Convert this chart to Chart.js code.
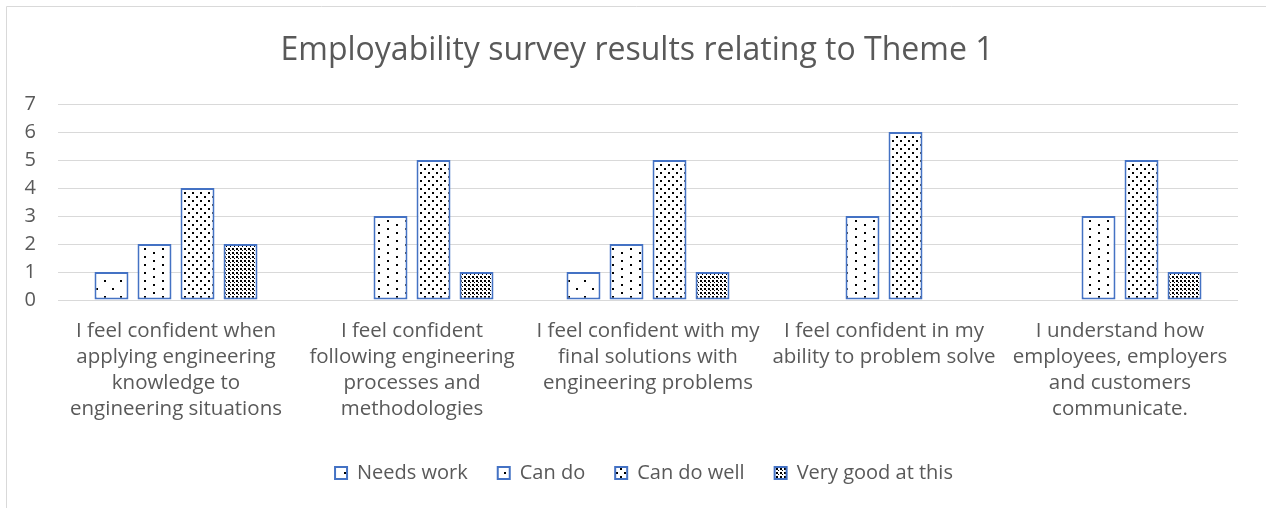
<!DOCTYPE html>
<html>
<head>
<meta charset="utf-8">
<script src="https://cdn.jsdelivr.net/npm/chart.js@4"></script>
<style>
  html, body { margin: 0; padding: 0; background: #ffffff; }
  #wrap { position: relative; width: 1266px; height: 508px; }
</style>
</head>
<body>
<div id="wrap"><canvas id="c" width="1266" height="508"></canvas></div>
<script>
const categories = [
  ["I feel confident when", "applying engineering", "knowledge to", "engineering situations"],
  ["I feel confident", "following engineering", "processes and", "methodologies"],
  ["I feel confident with my", "final solutions with", "engineering problems"],
  ["I feel confident in my", "ability to problem solve"],
  ["I understand how", "employees, employers", "and customers", "communicate."]
];
const seriesNames = ["Needs work", "Can do", "Can do well", "Very good at this"];
const needsWork = [1, 0, 1, 0, 0];
const canDo = [2, 3, 2, 3, 3];
const canDoWell = [4, 5, 5, 6, 5];
const veryGood = [2, 1, 1, 0, 1];
const yTicks = [0, 1, 2, 3, 4, 5, 6, 7];

const FONT = "'Open Sans'";
const TEXT = "#595959";
const BLUE = "#4472C4";

function makePattern(w, h, dots, size) {
  const c = document.createElement("canvas");
  c.width = w; c.height = h;
  const g = c.getContext("2d");
  g.fillStyle = "#ffffff";
  g.fillRect(0, 0, w, h);
  g.fillStyle = "#000000";
  dots.forEach(d => g.fillRect(d[0], d[1], d[2] || size, d[3] || size));
  return g.createPattern(c, "repeat");
}
const patterns = [
  makePattern(16, 16, [[0, 0], [8, 8]], 2),
  makePattern(18, 8, [[0, 0], [9, 4]], 2),
  makePattern(8, 8, [[0, 0], [4, 4]], 2),
  makePattern(4, 4, [[0, 0, 2, 2], [2, 2, 1, 1]], 2)
];

const seriesData = [needsWork, canDo, canDoWell, veryGood];

const framePlugin = {
  id: "frame",
  afterLayout(chart) {
    if (chart.titleBlock) { chart.titleBlock.left = 36; }
    if (chart.legend) { chart.legend.left = 50; }
  },
  beforeDraw(chart) {
    const ctx = chart.ctx;
    ctx.save();
    ctx.strokeStyle = "#d9d9d9";
    ctx.lineWidth = 1;
    ctx.beginPath();
    ctx.moveTo(6.5, 508);
    ctx.lineTo(6.5, 6.5);
    ctx.lineTo(1266, 6.5);
    ctx.stroke();
    ctx.restore();
  }
};

new Chart(document.getElementById("c"), {
  type: "bar",
  data: {
    labels: categories,
    datasets: seriesNames.map((name, i) => ({
      label: name,
      data: seriesData[i],
      backgroundColor: patterns[i],
      borderColor: BLUE,
      borderWidth: (ctx) => (ctx.raw === 0 ? 0 : 2),
      borderSkipped: false,
      categoryPercentage: 0.729,
      barPercentage: 0.79
    }))
  },
  options: {
    responsive: false,
    animation: false,
    devicePixelRatio: 1,
    layout: { padding: { left: 0, right: 28, top: 32, bottom: 15 } },
    plugins: {
      title: {
        display: true,
        text: "Employability survey results relating to Theme 1",
        color: TEXT,
        font: { family: FONT, size: 32, weight: "normal" },
        padding: { top: 0, bottom: 33.6 }
      },
      legend: {
        position: "bottom",
        labels: {
          color: TEXT,
          font: { family: FONT, size: 20 },
          boxWidth: 12,
          boxHeight: 12,
          padding: 30
        }
      },
      tooltip: { enabled: false }
    },
    scales: {
      x: {
        grid: { display: false, drawTicks: false },
        border: { display: false },
        ticks: {
          color: TEXT,
          font: { family: FONT, size: 20.5, lineHeight: "26px" },
          maxRotation: 0,
          autoSkip: false,
          padding: 18
        },
        afterFit(scale) { scale.height = 133; }
      },
      y: {
        min: 0,
        max: 7,
        afterBuildTicks(scale) { scale.ticks = yTicks.map(v => ({ value: v })); },
        grid: { color: "#d9d9d9", lineWidth: 1, drawTicks: false },
        border: { display: false },
        ticks: {
          color: TEXT,
          font: { family: FONT, size: 20 },
          padding: 22,
          autoSkip: false
        },
        afterFit(scale) { scale.width = 58; }
      }
    }
  },
  plugins: [framePlugin]
});
</script>
</body>
</html>
